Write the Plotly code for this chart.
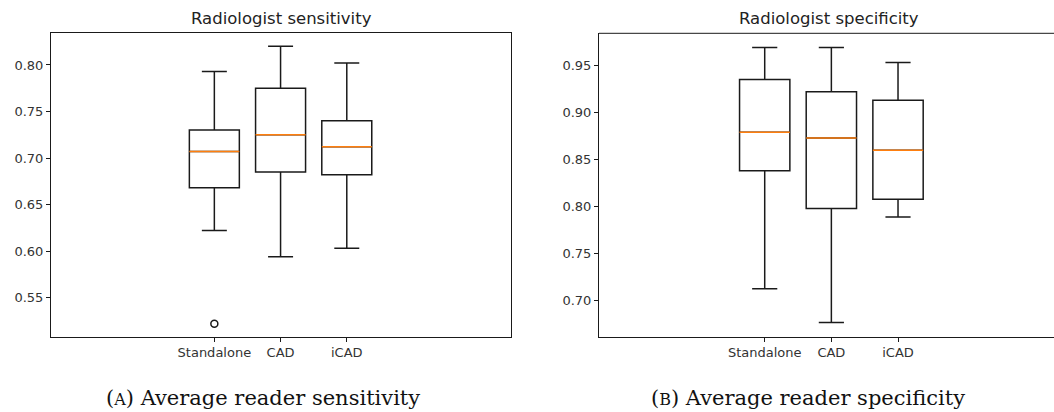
import plotly.graph_objects as go

# ---- data ----
categories = ["Standalone", "CAD", "iCAD"]
positions = [1, 2, 3]

sens_lower = [0.622, 0.594, 0.603]
sens_q1 = [0.668, 0.685, 0.682]
sens_median = [0.707, 0.725, 0.712]
sens_q3 = [0.730, 0.775, 0.740]
sens_upper = [0.793, 0.820, 0.802]
sens_outlier_cat = ["Standalone"]
sens_outlier_val = [0.522]

spec_lower = [0.713, 0.677, 0.789]
spec_q1 = [0.838, 0.798, 0.808]
spec_median = [0.879, 0.873, 0.860]
spec_q3 = [0.935, 0.922, 0.913]
spec_upper = [0.969, 0.969, 0.953]

sens_ticks = [0.55, 0.60, 0.65, 0.70, 0.75, 0.80]
spec_ticks = [0.70, 0.75, 0.80, 0.85, 0.90, 0.95]

titles = ["Radiologist sensitivity", "Radiologist specificity"]
captions = ["(<span style='font-size:16px'>A</span>) Average reader sensitivity",
            "(<span style='font-size:16px'>B</span>) Average reader specificity"]

# ---- layout constants ----
W, H = 1054, 412
BOX_W = 0.755
LINE = "#1a1a1a"
ORANGE = "#ff7f0e"

fig = go.Figure()


def add_panel(xa, ya, lower, q1, med, q3, upper):
    fig.add_trace(go.Box(
        x=positions, q1=q1, median=med, q3=q3,
        lowerfence=lower, upperfence=upper,
        width=BOX_W, whiskerwidth=0.5,
        line=dict(color=LINE, width=1.5),
        fillcolor="rgba(0,0,0,0)", boxpoints=False,
        showlegend=False, hoverinfo="skip",
        xaxis=xa, yaxis=ya,
    ))
    mx, my = [], []
    for p, m in zip(positions, med):
        mx += [p - BOX_W / 2, p + BOX_W / 2, None]
        my += [m, m, None]
    fig.add_trace(go.Scatter(
        x=mx, y=my, mode="lines",
        line=dict(color=ORANGE, width=1.5),
        showlegend=False, hoverinfo="skip",
        xaxis=xa, yaxis=ya,
    ))


add_panel("x", "y", sens_lower, sens_q1, sens_median, sens_q3, sens_upper)
add_panel("x2", "y2", spec_lower, spec_q1, spec_median, spec_q3, spec_upper)

# outlier
fig.add_trace(go.Scatter(
    x=[positions[categories.index(c)] for c in sens_outlier_cat],
    y=sens_outlier_val, mode="markers",
    marker=dict(symbol="circle-open", size=7, color=LINE, line=dict(width=1.5)),
    showlegend=False, hoverinfo="skip", xaxis="x", yaxis="y",
))

tickfont = dict(family="DejaVu Sans", size=13, color="#333333")
ydom = [1 - 336.7 / H, 1 - 33.3 / H]

common_x = dict(tickvals=positions, ticktext=categories, showgrid=False,
                zeroline=False, showline=True, linecolor=LINE, linewidth=1,
                ticks="outside", ticklen=4, tickcolor=LINE, tickfont=tickfont)
common_y = dict(showgrid=False, zeroline=False, showline=True, linecolor=LINE,
                linewidth=1, ticks="outside", ticklen=4, tickcolor=LINE,
                tickfont=tickfont, tickformat=".2f")

fig.update_layout(
    width=W, height=H,
    margin=dict(l=0, r=0, t=0, b=0),
    paper_bgcolor="white", plot_bgcolor="white",
    xaxis=dict(domain=[51 / W, 511 / W], range=[-1.467, 5.48], anchor="y",
               mirror=True, **common_x),
    yaxis=dict(domain=ydom, range=[0.508, 0.834], tickvals=sens_ticks,
               anchor="x", mirror=True, **common_y),
    xaxis2=dict(domain=[599 / W, 1.0], range=[-1.486, 5.34], anchor="y2",
                mirror=False, **common_x),
    yaxis2=dict(domain=ydom, range=[0.662, 0.984], tickvals=spec_ticks,
                anchor="x2", mirror=False, **common_y),
)

# top border of the right panel (panel runs off the right edge of the picture)
fig.add_shape(type="line", xref="paper", yref="paper",
              x0=599 / W, x1=1.02, y0=ydom[1], y1=ydom[1],
              line=dict(color=LINE, width=1))

title_font = dict(family="DejaVu Sans", size=16.5, color="#222222")
cap_font = dict(family="DejaVu Serif", size=21, color="#111111")
for cx, t in zip([281, 829], titles):
    fig.add_annotation(text=t, x=cx / W, y=1 - 19 / H, xref="paper", yref="paper",
                       xanchor="center", yanchor="middle", showarrow=False,
                       font=title_font)
for cx, c in zip([262.5, 807.5], captions):
    fig.add_annotation(text=c, x=cx / W, y=1 - 398 / H, xref="paper", yref="paper",
                       xanchor="center", yanchor="middle", showarrow=False,
                       font=cap_font)

fig.write_html(
    "out.html",
    config={"displayModeBar": False},
    post_script="document.body.style.margin='0';document.body.style.overflow='hidden';",
)
